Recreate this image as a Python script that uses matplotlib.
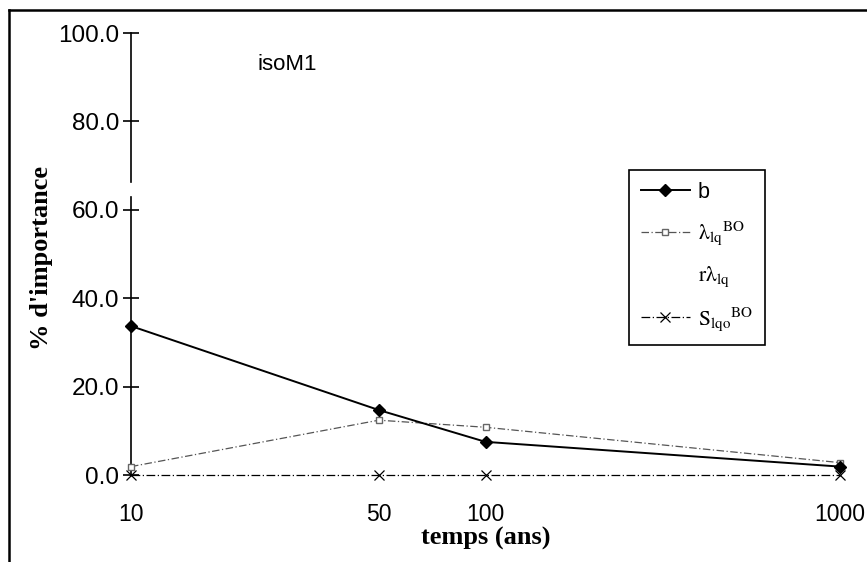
import matplotlib
matplotlib.use("Agg")
import matplotlib.pyplot as plt
from matplotlib.lines import Line2D
from matplotlib.ticker import FixedLocator, NullFormatter, FixedFormatter

plt.rcParams['mathtext.fontset'] = 'stix'

temps = [10, 50, 100, 1000]
b_vals = [33.7, 14.7, 7.5, 1.9]
lam_vals = [1.9, 12.4, 10.8, 2.8]
rlam_vals = [0.0, 0.0, 0.0, 0.0]
s_vals = [0.0, 0.0, 0.0, 0.0]
yticks = [0, 20, 40, 60, 80, 100]
ytick_labels = ["0.0", "20.0", "40.0", "60.0", "80.0", "100.0"]
xtick_labels = ["10", "50", "100", "1000"]
decade_ticks = [10, 100, 1000]

fig = plt.figure(figsize=(8.67, 5.62), dpi=100)
ax = fig.add_axes([131/867, 1-475/562, 709/867, 442/562])

ax.plot(temps, b_vals, color='black', lw=1.4, marker='D', ms=6.5,
        label='b', clip_on=False, zorder=5)
ax.plot(temps, lam_vals, color='#555555', lw=0.9, ls=(0, (6, 2, 1, 2)),
        marker='s', ms=5, mfc='white', mec='#666666', mew=1.0,
        label=r'$\mathrm{\lambda}_{\mathrm{lq}}{}^{\mathrm{BO}}$', clip_on=False, zorder=4)
ax.plot(temps, rlam_vals, ls='None', marker='None',
        label=r'$\mathrm{r\lambda}_{\mathrm{lq}}$')
ax.plot(temps, s_vals, color='black', lw=0.9, ls=(0, (7, 2, 1, 2)),
        marker='x', ms=7, mew=0.9,
        label=r'$\mathrm{S}_{\mathrm{lqo}}{}^{\mathrm{BO}}$', clip_on=False, zorder=3)

ax.set_xscale('log')
ax.set_xlim(10, 1000)
ax.set_ylim(0, 100)

for s in ['top', 'right', 'bottom', 'left']:
    ax.spines[s].set_visible(False)

# y axis with a small break
trans = ax.get_yaxis_transform()
ax.plot([0, 0], [0, 62.9], transform=trans, color='black', lw=1.2, clip_on=False)
ax.plot([0, 0], [66.3, 100], transform=trans, color='black', lw=1.2, clip_on=False)

ax.yaxis.set_major_locator(FixedLocator(yticks))
ax.yaxis.set_major_formatter(FixedFormatter(ytick_labels))
ax.tick_params(axis='y', direction='inout', length=11, width=1.2, pad=3,
               labelsize=17.5, labelfontfamily='Liberation Sans')

ax.xaxis.set_major_locator(FixedLocator(temps))
ax.xaxis.set_major_formatter(FixedFormatter(xtick_labels))
ax.xaxis.set_minor_locator(FixedLocator(decade_ticks))
ax.xaxis.set_minor_formatter(NullFormatter())
ax.tick_params(axis='x', which='major', direction='inout', length=0, width=1.0, pad=20,
               labelsize=16.5, labelfontfamily='Liberation Sans')
ax.tick_params(axis='x', which='minor', direction='inout', length=12, width=1.2)

ax.set_xlabel('temps (ans)', family='Liberation Serif', weight='bold', fontsize=19, labelpad=1)
ax.set_ylabel("% d'importance", family='Liberation Serif', weight='bold', fontsize=19)
ax.yaxis.set_label_coords(-0.11, 0.49)

ax.text(0.179, 0.928, 'isoM1', transform=ax.transAxes, family='Liberation Sans',
        fontsize=16, va='center', ha='left')

leg = ax.legend(loc='upper left', bbox_to_anchor=(0.702, 0.690),
                prop={'family': 'Liberation Sans', 'size': 15.5},
                frameon=True, fancybox=False, edgecolor='black', framealpha=1,
                handlelength=2.3, handletextpad=0.35, labelspacing=0.78,
                borderpad=0.55, borderaxespad=0)
leg.get_frame().set_linewidth(1.2)

# outer frame
fig.add_artist(Line2D([9/867, 9/867], [0, 1-10/562], transform=fig.transFigure,
                      color='black', lw=1.8))
fig.add_artist(Line2D([9/867, 1], [1-10/562, 1-10/562], transform=fig.transFigure,
                      color='black', lw=1.8))

fig.savefig('out.png', dpi=100)
